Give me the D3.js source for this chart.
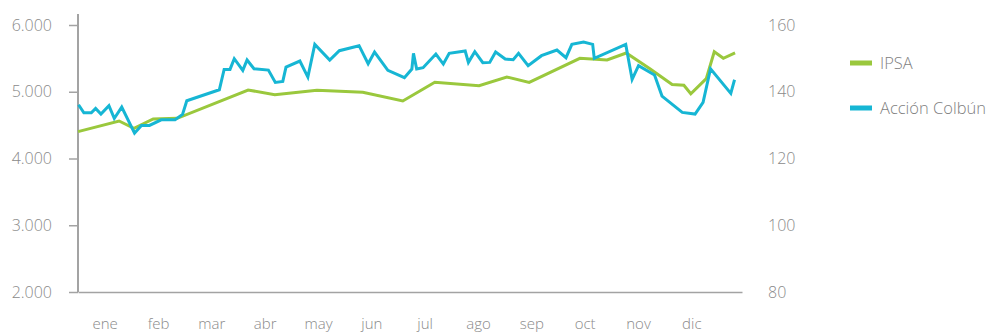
<!DOCTYPE html>
<html>
<head>
<meta charset="utf-8">
<script src="https://cdn.jsdelivr.net/npm/d3@7"></script>
<style>
  html, body { margin: 0; padding: 0; background: #fff; }
  svg text { font-family: "Open Sans", "Lato", sans-serif; font-weight: 300; }
</style>
</head>
<body>
<svg id="chart" width="992" height="334"></svg>
<script>
// Month labels along the bottom
const months = ["ene", "feb", "mar", "abr", "may", "jun", "jul", "ago", "sep", "oct", "nov", "dic"];

// Left axis ticks (IPSA, points) and right axis ticks (Colbún share)
const leftTicks = [2000, 3000, 4000, 5000, 6000];
const rightTicks = [80, 100, 120, 140, 160];

// IPSA: position in months since 1 Jan, index level
const ipsaT = [0, 0.77, 1.05, 1.41, 1.86, 3.19, 3.69, 4.48, 5.34, 6.09, 6.69, 7.52, 8.04, 8.46,
  9.41, 9.92, 10.28, 10.73, 11.14, 11.36, 11.49, 11.78, 11.93, 12.10, 12.32];
const ipsaV = [4402, 4562, 4452, 4592, 4602, 5026, 4956, 5022, 4992, 4861, 5142, 5091, 5221, 5139,
  5501, 5476, 5581, 5341, 5109, 5097, 4969, 5196, 5600, 5501, 5581];

// Acción Colbún: position in months since 1 Jan, share price
const colbunT = [0.01, 0.11, 0.25, 0.33, 0.43, 0.58, 0.68, 0.82, 1.06, 1.19, 1.34, 1.56, 1.82, 1.96,
  2.04, 2.65, 2.74, 2.85, 2.93, 3.09, 3.17, 3.30, 3.57, 3.70, 3.84, 3.90, 4.16, 4.31, 4.44, 4.72,
  4.90, 5.27, 5.44, 5.56, 5.81, 6.12, 6.26, 6.29, 6.35, 6.47, 6.71, 6.85, 6.96, 7.26, 7.32, 7.44,
  7.59, 7.72, 7.83, 8.01, 8.16, 8.26, 8.44, 8.69, 8.98, 9.15, 9.26, 9.48, 9.65, 9.68, 10.27, 10.39,
  10.51, 10.81, 10.95, 11.33, 11.57, 11.72, 11.86, 12.24, 12.31];
const colbunV = [136.1, 133.7, 133.7, 135.0, 133.3, 135.8, 132.0, 135.4, 127.6, 129.9, 129.9, 131.6,
  131.6, 133.2, 137.3, 140.6, 146.7, 146.7, 149.9, 146.4, 149.5, 146.9, 146.5, 142.8, 143.1, 147.4,
  149.2, 144.4, 154.2, 149.5, 152.3, 153.8, 148.4, 151.9, 146.4, 144.2, 146.8, 151.5, 146.8, 147.2,
  151.3, 148.3, 151.5, 152.2, 148.8, 152.0, 148.7, 148.8, 151.9, 149.8, 149.6, 151.5, 147.8, 150.8,
  152.5, 150.2, 154.2, 154.9, 154.2, 150.0, 154.2, 143.7, 147.8, 145.0, 138.7, 133.8, 133.3, 136.8,
  146.9, 139.5, 143.6];

const seriesNames = ["IPSA", "Acción Colbún"];
const colors = ["#9ac83d", "#16b6d4"];

const svg = d3.select("#chart");
const plot = { left: 78, right: 742, top: 25, bottom: 292 };

const x = d3.scaleLinear().domain([0, 12.45]).range([plot.left, plot.right]);
const yL = d3.scaleLinear().domain([2000, 6000]).range([plot.bottom, plot.top]);
const yR = d3.scaleLinear().domain([80, 160]).range([plot.bottom, plot.top]);

const es = d3.formatLocale({ decimal: ",", thousands: ".", grouping: [3], currency: ["$", ""] });
const fmtL = es.format(",d");

const axisGray = "#a3a3a3";
const textGray = "#8a8a8a";

// Left axis
const gL = svg.append("g")
  .attr("transform", `translate(${plot.left},0)`)
  .call(d3.axisLeft(yL).tickValues(leftTicks).tickFormat(fmtL).tickSize(9).tickSizeOuter(0).tickPadding(17));
gL.select(".domain")
  .attr("d", `M0,${plot.top - 11}V${plot.bottom}`)
  .attr("stroke", axisGray).attr("stroke-width", 2);
gL.selectAll(".tick line").attr("stroke", axisGray).attr("stroke-width", 1.5);
gL.selectAll(".tick text").attr("fill", textGray).style("font-size", "16px");

// Right axis (labels only)
const gR = svg.append("g")
  .attr("transform", `translate(${plot.right},0)`)
  .call(d3.axisRight(yR).tickValues(rightTicks).tickSize(0).tickPadding(26));
gR.select(".domain").remove();
gR.selectAll(".tick text").attr("fill", textGray).style("font-size", "16px");

// Bottom axis with month names centred in each month
const gB = svg.append("g")
  .attr("transform", `translate(0,${plot.bottom})`)
  .call(d3.axisBottom(x).tickValues(months.map((m, i) => i + 0.5))
    .tickFormat((d, i) => months[i]).tickSize(0).tickSizeOuter(0).tickPadding(26));
gB.select(".domain").attr("stroke", axisGray).attr("stroke-width", 1.5);
gB.selectAll(".tick text").attr("fill", textGray).style("font-size", "15px");

// Lines
const ipsa = ipsaT.map((t, i) => ({ t, v: ipsaV[i] }));
const colbun = colbunT.map((t, i) => ({ t, v: colbunV[i] }));

svg.append("path").datum(ipsa)
  .attr("fill", "none").attr("stroke", colors[0]).attr("stroke-width", 3)
  .attr("stroke-linejoin", "miter")
  .attr("d", d3.line().x(d => x(d.t)).y(d => yL(d.v)));

svg.append("path").datum(colbun)
  .attr("fill", "none").attr("stroke", colors[1]).attr("stroke-width", 3)
  .attr("stroke-linejoin", "miter")
  .attr("d", d3.line().x(d => x(d.t)).y(d => yR(d.v)));

// Legend
const legend = svg.append("g").attr("transform", "translate(850,63)");
seriesNames.forEach((name, i) => {
  const row = legend.append("g").attr("transform", `translate(0,${i * 45})`);
  row.append("rect").attr("x", 0).attr("y", -2.5).attr("width", 22).attr("height", 5).attr("fill", colors[i]);
  row.append("text").attr("x", 30).attr("y", 0).attr("dy", "0.35em")
    .attr("fill", "#7f7f7f").style("font-size", "16.5px").text(name);
});
</script>
</body>
</html>
